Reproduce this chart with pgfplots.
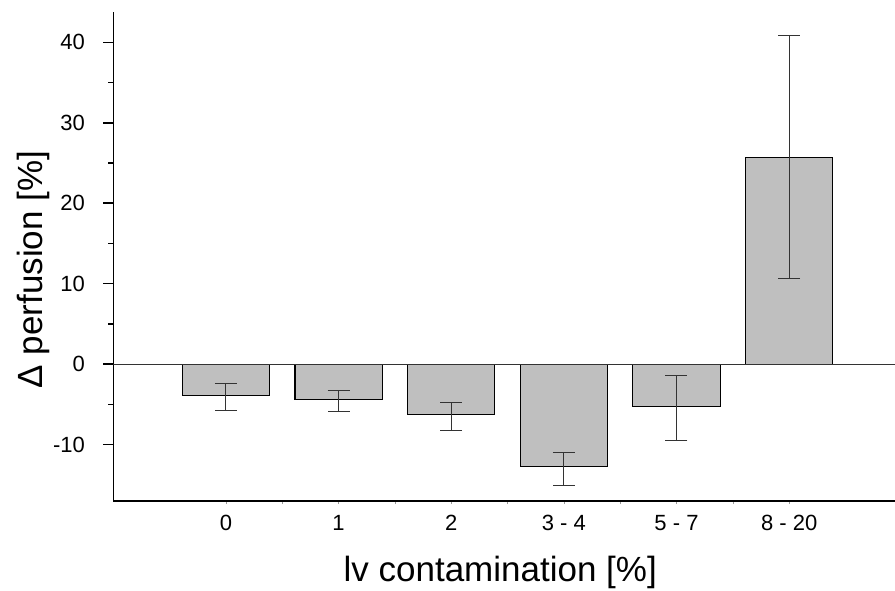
\documentclass[border=0pt]{standalone}
\usepackage{pgfplots}
\pgfplotsset{compat=1.18}
\usepackage{fontspec}
\setmainfont{Liberation Sans}
\usetikzlibrary{calc}

\begin{document}
\begin{tikzpicture}
\begin{axis}[
  scale only axis,
  width=781.7bp, height=489.3bp,
  xmin=-1, xmax=5.94, ymin=-17, ymax=43.8,
  axis x line*=bottom, axis y line*=left,
  axis line style={-, line width=1.5bp, black},
  tick align=outside,
  major tick length=10bp, minor tick length=5bp,
  xtick={0,1,2,3,4,5},
  xticklabels={0,1,2,3 - 4,5 - 7,8 - 20},
  minor x tick num=1,
  % short faint stubs along the category axis
  xtick style={line width=0.6bp, black!40, dash pattern=on 0bp off 7bp on 3bp off 20bp},
  minor x tick style={line width=0.6bp, black!40, dash pattern=on 0bp off 2bp on 3bp off 20bp},
  ytick={-10,0,10,20,30,40},
  yticklabels={-10,0,10,20,30,40},
  minor y tick num=1,
  ytick style={line width=1.5bp, black},
  minor y tick style={line width=1.5bp, black},
  tick label style={font=\fontsize{22bp}{26bp}\selectfont},
  xticklabel style={anchor=base, yshift=-19.7bp},
  yticklabel style={anchor=east, inner sep=0pt, xshift=-18.3bp},
  label style={font=\fontsize{35bp}{40bp}\selectfont},
  xlabel={lv contamination [\%]},
  ylabel={Δ perfusion [\%]},
  xlabel style={at={(rel axis cs:0.495,-0.1649)}, anchor=base},
  ylabel style={at={(rel axis cs:-0.0912,0.473)}, anchor=base},
]
% mean change per contamination class, asymmetric error bars
\addplot[ybar, bar width=87.3bp, fill=black!25, draw=black, line width=1.2bp,
  error bars/.cd, y dir=both, y explicit,
  error bar style={line width=1bp, black!80},
  error mark options={rotate=90, mark size=11bp, line width=1bp, black!80}]
coordinates {
  (0,-3.90)  += (0,1.45)  -= (0,1.90)
  (1,-4.35)  += (0,1.07)  -= (0,1.54)
  (2,-6.30)  += (0,1.49)  -= (0,1.99)
  (3,-12.76) += (0,1.78)  -= (0,2.32)
  (4,-5.22)  += (0,3.80)  -= (0,4.27)
  (5,25.66)  += (0,15.16) -= (0,14.98)
};
% zero reference line
\addplot[line width=1bp, black!80, forget plot] coordinates {(-1,0) (5.94,0)};
\coordinate (LL) at (rel axis cs:0,0);
\coordinate (UR) at (rel axis cs:1,1);
\end{axis}
\pgfresetboundingbox
\useasboundingbox ($(LL)+(-113.3bp,-90bp)$) rectangle ($(UR)+(0bp,11.7bp)$);
\end{tikzpicture}
\end{document}
